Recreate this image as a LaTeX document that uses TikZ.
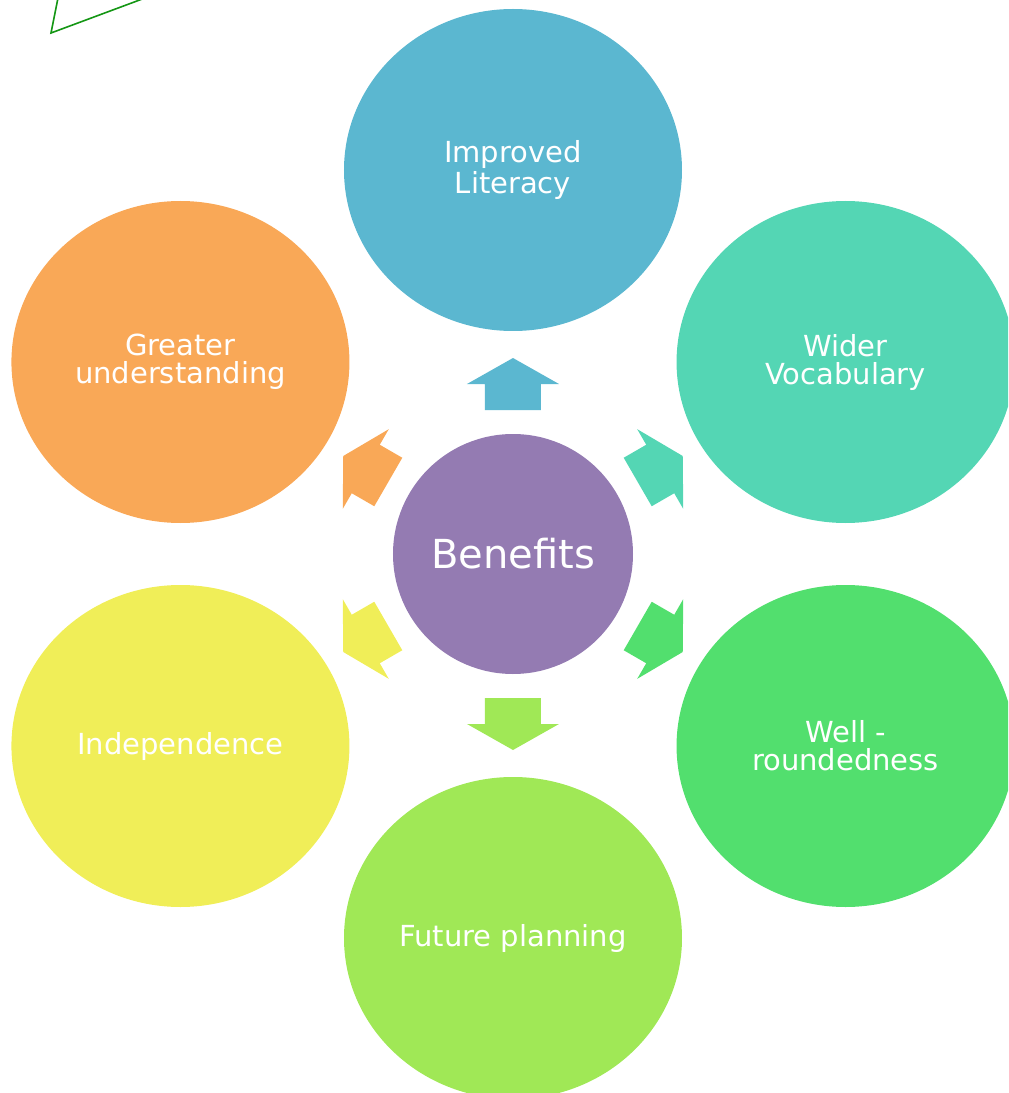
\documentclass[tikz,border=0pt]{standalone}
\usepackage{fontspec}
\setmainfont{DejaVu Sans}
\usepackage{tikz}
\usetikzlibrary{positioning, arrows.meta, shapes.geometric}
\tikzset{
    >=Stealth,
    every node/.style={text=white, align=center}
}
\definecolor{litblue}{RGB}{91,183,208}
\definecolor{vocteal}{RGB}{84,214,180}
\definecolor{roundgreen}{RGB}{82,223,110}
\definecolor{planlime}{RGB}{160,232,86}
\definecolor{indyellow}{RGB}{240,238,88}
\definecolor{understorange}{RGB}{249,168,87}
\definecolor{hubpurple}{RGB}{148,123,178}
\definecolor{cornergreen}{RGB}{20,150,20}

\begin{document}
\begin{tikzpicture}[
    x=0.5pt, y=0.5pt,
    hub/.style={circle, fill=hubpurple, minimum size=120pt, inner sep=0pt,
        font=\fontsize{20}{24}\selectfont},
    benefit/.style={ellipse, minimum width=169pt, minimum height=161pt, inner sep=0pt,
        font=\fontsize{14.5}{14}\selectfont}
]
\useasboundingbox (-513,-539) rectangle (495,554);
\clip (-513,-539) rectangle (495,554);

\node[hub] (ben) at (0,0) {Benefits};

\node[benefit, fill=litblue] (literacy) at (90:384) {Improved\\Literacy};
\node[benefit, fill=vocteal] (vocab) at (30:384) {Wider\\Vocabulary};
\node[benefit, fill=roundgreen] (rounded) at (-30:384) {Well -\\roundedness};
\node[benefit, fill=planlime] (future) at (-90:384) {Future planning};
\node[benefit, fill=indyellow] (indep) at (-150:384) {Independence};
\node[benefit, fill=understorange] (under) at (150:384) {Greater\\understanding};

% Block arrows
\foreach \ang/\col in {90/litblue, 30/vocteal, -30/roundgreen, -90/planlime, -150/indyellow, 150/understorange}
    \fill[\col, rotate=\ang-90]
        (-28,144) -- (28,144) -- (28,170) -- (46,170) -- (0,196) -- (-46,170) -- (-28,170) -- cycle;

% Corner mark
\draw[cornergreen, line width=0.8pt] (-455,556) -- (-462,521) -- (-368,556);

\end{tikzpicture}
\end{document}
